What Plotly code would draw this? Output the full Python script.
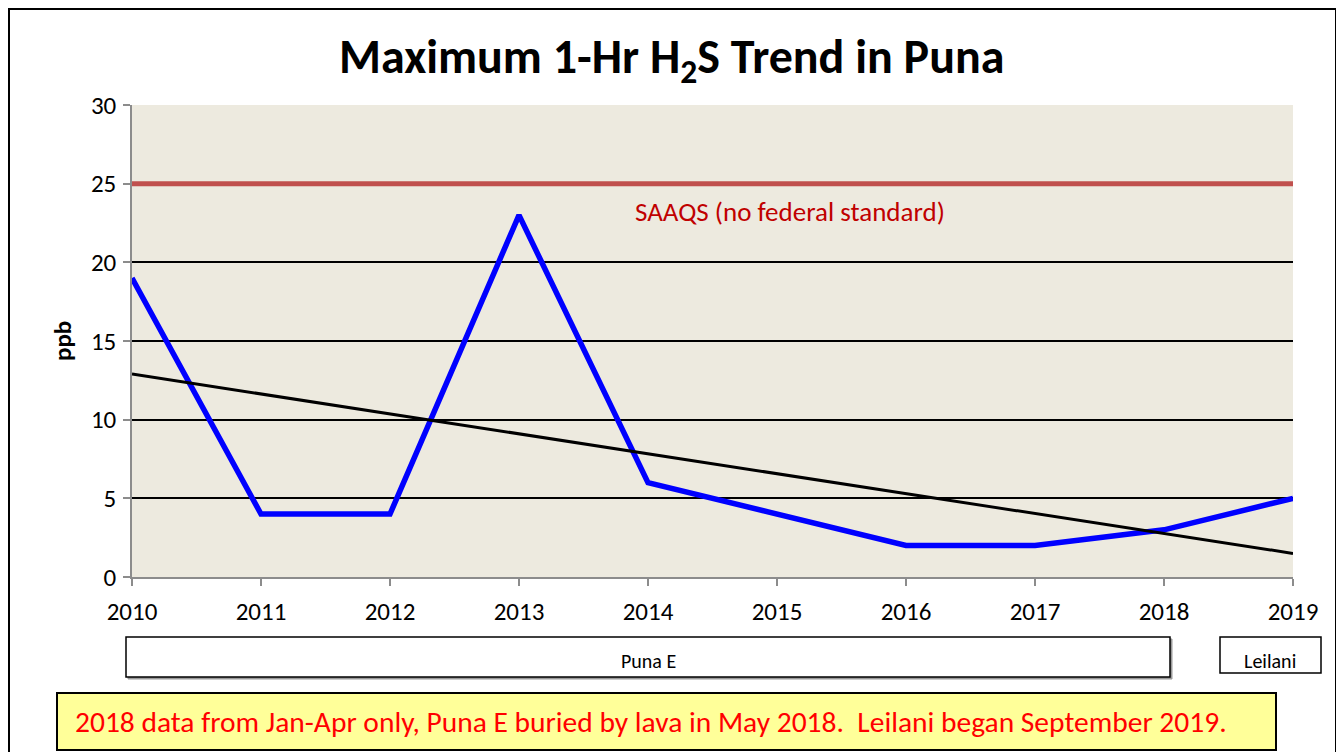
import plotly.graph_objects as go

# ---------------- data ----------------
years = [2010, 2011, 2012, 2013, 2014, 2015, 2016, 2017, 2018, 2019]
max_h2s_ppb = [19, 4, 4, 23, 6, 4, 2, 2, 3, 5]
trend_years = [2010, 2019]
trend_ppb = [12.9, 1.5]
saaqs_years = [2010, 2019]
saaqs_ppb = [25, 25]
y_ticks = [0, 5, 10, 15, 20, 25, 30]

title_text = "Maximum 1-Hr H<sub>2</sub>S Trend in Puna"
saaqs_label = "SAAQS (no federal standard)"
station_a = "Puna E"
station_b = "Leilani"
note_text = "2018 data from Jan-Apr only, Puna E buried by lava in May 2018.&nbsp; Leilani began September 2019."

# ---------------- layout geometry (screen pixels) ----------------
OFF = 8  # page body margin
W, H = 1344 - OFF, 752 - OFF
L, R, T, B = 132, 1293, 105, 577  # screen coords of plot area
FONT = "Calibri, Carlito, Lato, 'Open Sans', sans-serif"


def px(x):
    return (x - L) / (R - L)


def py(y):
    return (B - y) / (B - T)


fig = go.Figure()
fig.add_trace(go.Scatter(x=saaqs_years, y=saaqs_ppb, mode="lines",
                         line=dict(color="#C0504D", width=5), hoverinfo="skip"))
fig.add_trace(go.Scatter(x=years, y=max_h2s_ppb, mode="lines",
                         line=dict(color="#0000FF", width=5.5)))
fig.add_trace(go.Scatter(x=trend_years, y=trend_ppb, mode="lines",
                         line=dict(color="#000000", width=3)))

shapes = []
# outer border
shapes.append(dict(type="rect", xref="paper", yref="paper",
                   x0=px(9), x1=px(1336), y0=py(9), y1=py(780),
                   line=dict(color="black", width=2), fillcolor="rgba(0,0,0,0)", layer="above"))
# Puna E box with shadow
shapes.append(dict(type="rect", xref="paper", yref="paper",
                   x0=px(128), x1=px(1172), y0=py(639), y1=py(679),
                   line=dict(color="#9a9a9a", width=1), fillcolor="#9a9a9a"))
shapes.append(dict(type="rect", xref="paper", yref="paper",
                   x0=px(126), x1=px(1170), y0=py(637), y1=py(677),
                   line=dict(color="black", width=1.5), fillcolor="white"))
# Leilani box
shapes.append(dict(type="rect", xref="paper", yref="paper",
                   x0=px(1220), x1=px(1321), y0=py(637), y1=py(673),
                   line=dict(color="black", width=1.5), fillcolor="white"))
# note box
shapes.append(dict(type="rect", xref="paper", yref="paper",
                   x0=px(57), x1=px(1276), y0=py(693), y1=py(750),
                   line=dict(color="black", width=2), fillcolor="#FFFF99"))

annotations = [
    dict(text="<b>" + title_text + "</b>", xref="paper", yref="paper",
         x=px(671), y=py(60), xanchor="center", yanchor="middle", showarrow=False,
         font=dict(family=FONT, size=48, color="black")),
    dict(text=saaqs_label, xref="paper", yref="paper",
         x=px(790), y=py(211), xanchor="center", yanchor="middle", showarrow=False,
         font=dict(family=FONT, size=27, color="#C00000")),
    dict(text="<b>ppb</b>", xref="paper", yref="paper", textangle=-90,
         x=px(62), y=py(341), xanchor="center", yanchor="middle", showarrow=False,
         font=dict(family=FONT, size=25, color="black")),
    dict(text=station_a, xref="paper", yref="paper",
         x=px(648), y=py(661), xanchor="center", yanchor="middle", showarrow=False,
         font=dict(family=FONT, size=20, color="black")),
    dict(text=station_b, xref="paper", yref="paper",
         x=px(1270), y=py(661), xanchor="center", yanchor="middle", showarrow=False,
         font=dict(family=FONT, size=20, color="black")),
    dict(text=note_text, xref="paper", yref="paper",
         x=px(651), y=py(722), xanchor="center", yanchor="middle", showarrow=False,
         font=dict(family=FONT, size=29.5, color="#FF0000")),
]

fig.update_layout(
    width=W, height=H,
    margin=dict(l=L - OFF, r=W - (R - OFF), t=T - OFF, b=H - (B - OFF)),
    paper_bgcolor="white",
    plot_bgcolor="#EDEADF",
    showlegend=False,
    shapes=shapes,
    annotations=annotations,
    font=dict(family=FONT, size=25, color="black"),
)
fig.update_xaxes(range=[2010, 2019], tickmode="array", tickvals=years,
                 ticktext=[str(y) for y in years],
                 showgrid=False, zeroline=False,
                 showline=True, linecolor="#8c8c8c", linewidth=1.5,
                 ticks="outside", ticklen=7, tickcolor="#8c8c8c", tickwidth=1.5,
                 ticklabelstandoff=4,
                 tickfont=dict(family=FONT, size=25, color="black"))
fig.update_yaxes(range=[0, 30], tickmode="array", tickvals=y_ticks,
                 showgrid=True, gridcolor="black", gridwidth=1.5, zeroline=False,
                 showline=True, linecolor="#8c8c8c", linewidth=1.5,
                 ticks="outside", ticklen=7, tickcolor="#8c8c8c", tickwidth=1.5,
                 ticklabelstandoff=2,
                 tickfont=dict(family=FONT, size=25, color="black"))

fig.write_html("out.html")
